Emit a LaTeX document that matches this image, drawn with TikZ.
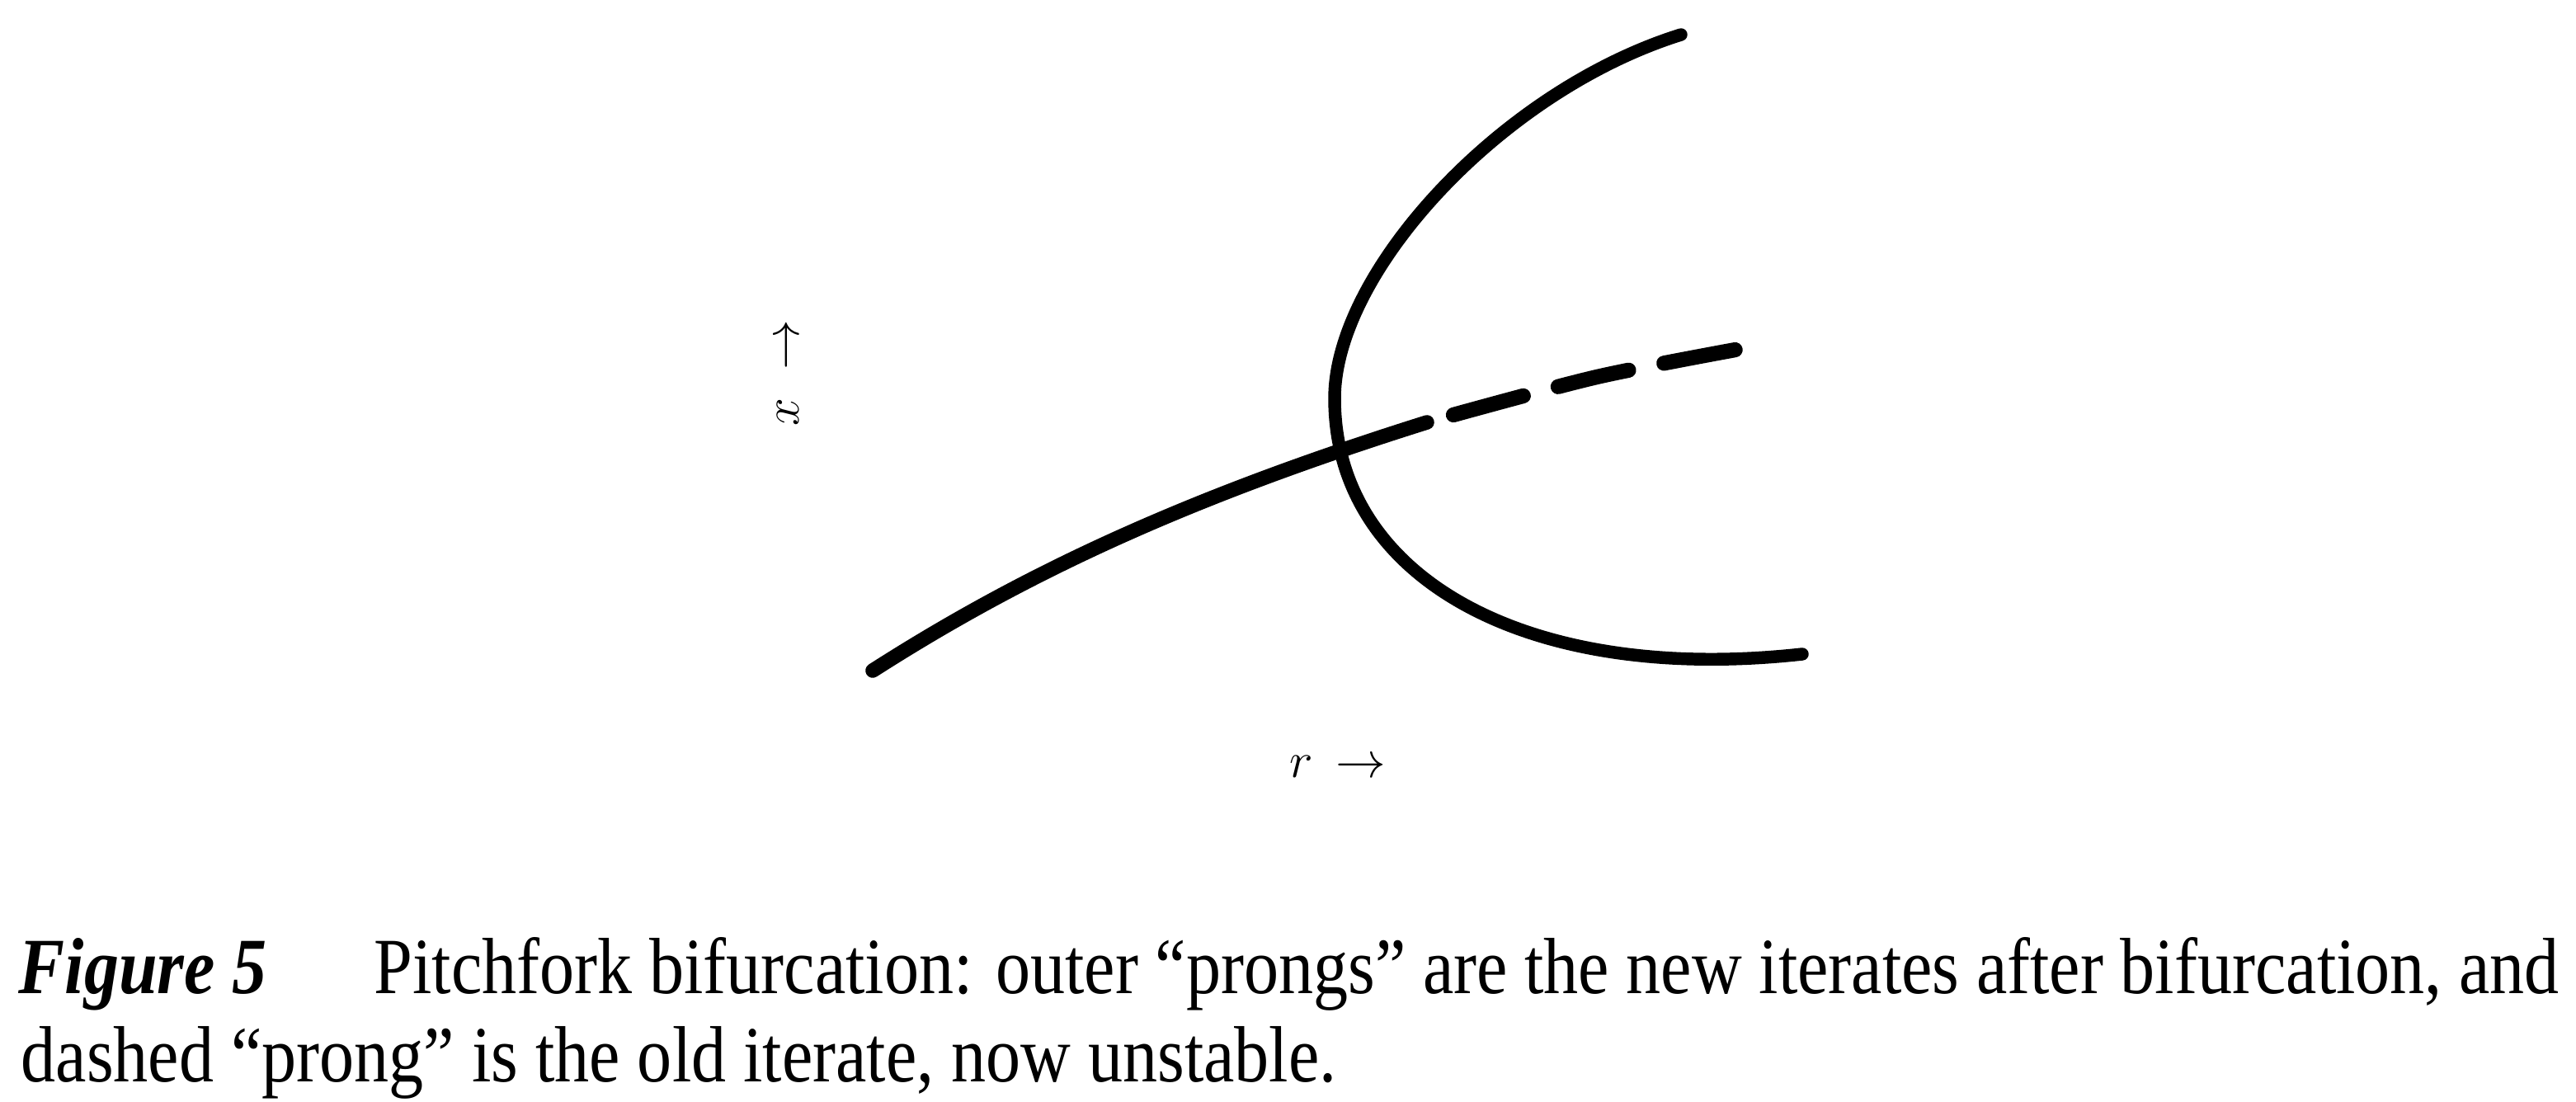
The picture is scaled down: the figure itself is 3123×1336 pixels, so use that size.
\documentclass[tikz,border=0pt]{standalone}
\usepackage{fontspec}
\setmainfont{Liberation Serif}[FakeStretch=0.87]
\tikzset{
  stable/.style={line width=5pt,line cap=round},
  prong/.style={line width=4.4pt,line cap=round},
  unstable/.style={line width=5.2pt,line cap=round,dash pattern=on 25pt off 12.4pt},
  axlbl/.style={inner sep=0pt,font=\fontsize{17.6}{20}\selectfont},
  caplbl/.style={inner sep=0pt,anchor=base west,font=\fontsize{27.5}{30.4}\selectfont}
}

\begin{document}
\begin{tikzpicture}[x=0.1mm,y=-0.1mm]
\useasboundingbox (0,0) rectangle (3123,1336);

\coordinate (tip) at (1618,483);
\coordinate (top) at (2038,42);
\coordinate (bot) at (2185,793);

% old iterate: stable up to the fork, then unstable
\draw[stable] (1058,813) .. controls (1250,690) and (1450,600) .. (1730,512);
\draw[unstable] plot[smooth] coordinates {(1762,503) (1936,457) (2104,424)};

% outer prongs
\draw[prong] (top) .. controls (1820,110) and (1618,330) .. (tip)
  .. controls (1618,700) and (1850,830) .. (bot);

\node[axlbl,rotate=90,anchor=base] (xlbl) at (968,452) {$x\;\rightarrow$};
\node[axlbl,anchor=base] (rlbl) at (1622,943) {$r\,\rightarrow$};

\node[caplbl] (capA) at (22,1204) {\makebox[308mm][s]{\textbf{\textit{Figure 5}}\hspace{13mm}Pitchfork bifurcation: outer ``prongs'' are the new iterates after bifurcation, and}};
\node[caplbl] (capB) at (25,1311) {dashed ``prong'' is the old iterate, now unstable.};
\end{tikzpicture}
\end{document}
